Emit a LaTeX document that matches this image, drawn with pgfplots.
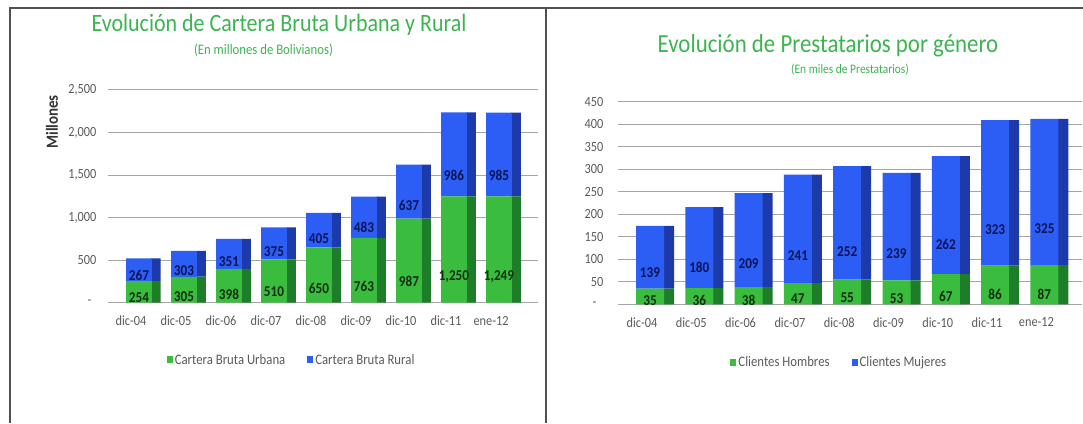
\documentclass[border=0pt]{standalone}
\usepackage{fontspec}
\setmainfont{Carlito}[FakeStretch=0.88]
\usepackage{pgfplots}
\usepackage{pgfplotstable}
\pgfplotsset{compat=1.18}

\definecolor{gfront}{RGB}{58,188,62}
\definecolor{gside}{RGB}{30,125,40}
\definecolor{bfront}{RGB}{44,94,245}
\definecolor{bside}{RGB}{28,58,170}
\definecolor{ttl}{RGB}{60,180,80}
\definecolor{gridc}{RGB}{165,165,165}
\definecolor{tickc}{RGB}{90,90,90}
\definecolor{lblg}{RGB}{20,45,20}
\definecolor{lblb}{RGB}{10,20,85}
\definecolor{framec}{RGB}{80,80,80}

\pgfplotstableread{
x u r
0 254 267
1 305 303
2 398 351
3 510 375
4 650 405
5 763 483
6 987 637
7 1250 986
8 1249 985
}\cart

\pgfplotstableread{
x h m
0 35 139
1 36 180
2 38 209
3 47 241
4 55 252
5 53 239
6 67 262
7 86 323
8 87 325
}\prest

\tikzset{lblfont/.style={font=\bfseries\fontsize{15}{15}\selectfont}}
\pgfplotsset{
  base/.style={scale only axis, enlargelimits=false, axis line style={draw=none},
    major tick length=0pt, /pgf/number format/assume math mode=true, clip=false},
  leftgeo/.style={at={(108pt,120.3pt)}, anchor=south west, width=430pt, height=212.7pt,
    xmin=-0.511, xmax=9.044, ymin=0, ymax=2500, ytick={0,500,...,2500}},
  rightgeo/.style={at={(618pt,118.7pt)}, anchor=south west, width=464pt, height=202.6pt,
    xmin=-0.487, xmax=8.925, ymin=0, ymax=450, ytick={0,50,...,450}},
  sq/.style={legend image code/.code={\fill[##1,draw=none] (0pt,-3.5pt) rectangle (6pt,3.5pt);}},
}

\begin{document}
\begin{tikzpicture}[x=1pt,y=1pt]
\path[use as bounding box] (0,0) rectangle (1083,423);
\draw[framec, line width=1.5pt] (10,0) -- (10,415) -- (1083,415);
\draw[framec, line width=1.5pt] (546,0) -- (546,415);

\node[anchor=base, text=ttl, font=\fontsize{25}{29}\selectfont] at (279,391.3) {Evolución de Cartera Bruta Urbana y Rural};
\node[anchor=base, text=ttl, font=\fontsize{14.5}{17}\selectfont] at (263.5,368.5) {(En millones de Bolivianos)};
\node[anchor=base, text=ttl, font=\fontsize{26}{30}\selectfont] at (828,370) {Evolución de Prestatarios por género};
\node[anchor=base, text=ttl, font=\fontsize{13}{15}\selectfont] at (850,349) {(En miles de Prestatarios)};

% ---- left: side faces + grid
\begin{axis}[base, leftgeo, ybar stacked, ymajorgrids, grid style={gridc, line width=1pt},
  xtick=\empty, yticklabel={\mbox{}}]
\addplot[fill=gside, draw=none, bar shift=25pt, bar width=9.5pt] table[x=x,y=u]{\cart};
\addplot[fill=bside, draw=none, bar shift=25pt, bar width=9.5pt] table[x=x,y=r]{\cart};
\end{axis}
% ---- left: front faces
\begin{axis}[base, leftgeo, ybar stacked,
  xtick={0,...,8},
  xticklabels={dic-04,dic-05,dic-06,dic-07,dic-08,dic-09,dic-10,dic-11,ene-12},
  yticklabels={{-\hspace*{5pt}},500,{1,000},{1,500},{2,000},{2,500}},
  tick label style={font=\fontsize{14}{16}\selectfont, text=tickc},
  xticklabel style={yshift=-10pt}, yticklabel style={xshift=-8pt},
  ylabel={Millones},
  ylabel style={at={(axis description cs:-0.130,0.85)}, anchor=center, font=\bfseries\fontsize{17}{19}\selectfont, text=black!80},
  legend style={draw=none, fill=none, at={(axis description cs:0.427,-0.269)}, anchor=center,
    legend columns=2, font=\fontsize{14.5}{16}\selectfont, text=tickc,
    /tikz/every even column/.append style={column sep=20pt}},
  nodes near coords, point meta=explicit]
\addplot[fill=gfront, draw=none, bar shift=8pt, bar width=25.7pt, sq,
  visualization depends on={\thisrow{u} \as \segv},
  every node near coord/.append style={anchor=center, yshift={-0.25*\segv*0.08508}, lblfont, text=lblg}]
  table[x=x,y=u,meta=u]{\cart};
\addlegendentry{Cartera Bruta Urbana}
\addplot[fill=bfront, draw=none, bar shift=8pt, bar width=25.7pt, sq,
  visualization depends on={\thisrow{r} \as \segv},
  every node near coord/.append style={anchor=center, yshift={-0.25*\segv*0.08508}, lblfont, text=lblb}]
  table[x=x,y=r,meta=r]{\cart};
\addlegendentry{Cartera Bruta Rural}
\end{axis}

% ---- right: side faces + grid
\begin{axis}[base, rightgeo, ybar stacked, ymajorgrids, grid style={gridc, line width=1pt},
  xtick=\empty, yticklabel={\mbox{}}]
\addplot[fill=gside, draw=none, bar shift=26.75pt, bar width=10.5pt] table[x=x,y=h]{\prest};
\addplot[fill=bside, draw=none, bar shift=26.75pt, bar width=10.5pt] table[x=x,y=m]{\prest};
\end{axis}
% ---- right: front faces
\begin{axis}[base, rightgeo, ybar stacked,
  xtick={0,...,8},
  xticklabels={dic-04,dic-05,dic-06,dic-07,dic-08,dic-09,dic-10,dic-11,ene-12},
  yticklabels={{-\hspace*{7pt}},50,100,150,200,250,300,350,400,450},
  tick label style={font=\fontsize{14}{16}\selectfont, text=tickc},
  xticklabel style={yshift=-10pt}, yticklabel style={xshift=-11pt},
  legend style={draw=none, fill=none, at={(axis description cs:0.477,-0.285)}, anchor=center,
    legend columns=2, font=\fontsize{14.5}{16}\selectfont, text=tickc,
    /tikz/every even column/.append style={column sep=20pt}},
  nodes near coords, point meta=explicit]
\addplot[fill=gfront, draw=none, bar shift=8pt, bar width=28pt, sq,
  visualization depends on={\thisrow{h} \as \segv},
  every node near coord/.append style={anchor=center, yshift={-0.25*\segv*0.45022}, lblfont, text=lblg}]
  table[x=x,y=h,meta=h]{\prest};
\addlegendentry{Clientes Hombres}
\addplot[fill=bfront, draw=none, bar shift=8pt, bar width=28pt, sq,
  visualization depends on={\thisrow{m} \as \segv},
  every node near coord/.append style={anchor=center, yshift={-0.25*\segv*0.45022}, lblfont, text=lblb}]
  table[x=x,y=m,meta=m]{\prest};
\addlegendentry{Clientes Mujeres}
\end{axis}
\end{tikzpicture}
\end{document}
